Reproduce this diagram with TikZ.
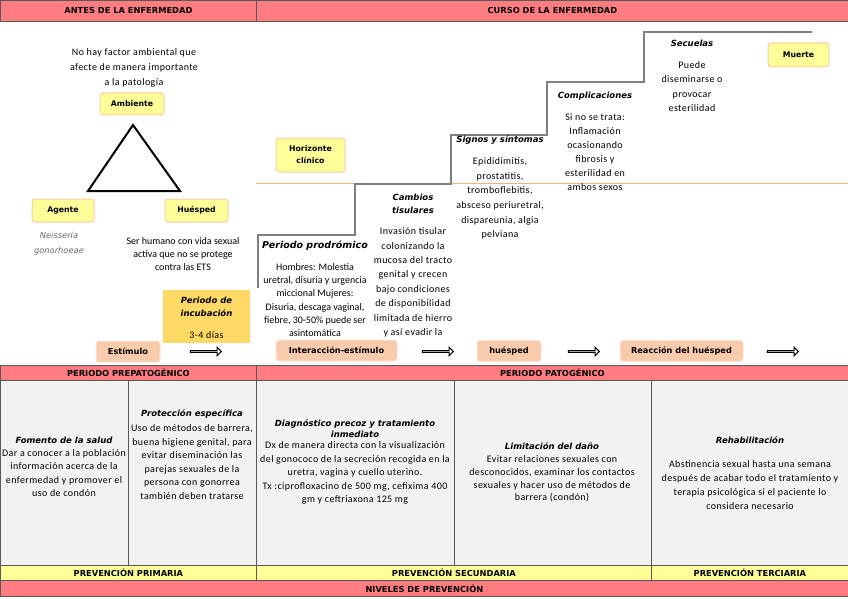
\documentclass[tikz,border=0pt]{standalone}
\usepackage{fontspec}
\setmainfont{Carlito}
\newfontfamily\capfont{DejaVu Sans}
\newfontfamily\widefont[LetterSpace=4]{Carlito}
\usetikzlibrary{shapes.arrows}

\definecolor{barpink}{HTML}{FF7C80}
\definecolor{baryellow}{HTML}{FFFF99}
\definecolor{barline}{HTML}{595959}
\definecolor{cellgray}{HTML}{F2F2F2}
\definecolor{tagyellow}{HTML}{FFFF99}
\definecolor{tagline}{HTML}{F8CBAD}
\definecolor{peach}{HTML}{F8CBAD}
\definecolor{peachline}{HTML}{FBE3D2}
\definecolor{gold}{HTML}{FFD966}
\definecolor{stairgray}{HTML}{7F7F7F}
\definecolor{horizon}{HTML}{F4B183}

\begin{document}
\begin{tikzpicture}[x=1pt, y=-1pt,
  bar/.style={draw=barline, line width=0.8pt, fill=#1, inner sep=0pt, anchor=north west, font=\capfont\bfseries\fontsize{8.3}{9}\selectfont},
  tag/.style={draw=tagline, line width=1pt, fill=tagyellow, rounded corners=3pt, inner sep=0pt, font=\capfont\bfseries\fontsize{7.8}{12}\selectfont},
  stage/.style={draw=peachline, line width=1pt, fill=peach, rounded corners=3pt, inner sep=0pt, minimum height=21pt, font=\capfont\bfseries\fontsize{8.2}{9}\selectfont},
  head/.style={align=center, inner sep=0pt, font=\capfont\bfseries\itshape\fontsize{#1}{13}\selectfont},
  head/.default=8.5,
  txt/.style={align=center, inner sep=0pt, font=\widefont\fontsize{10}{#1}\selectfont},
  txt/.default=13.5,
  tight/.style={align=center, inner sep=0pt, font=\fontsize{10}{#1}\selectfont},
  flow/.style={single arrow, draw=black, fill=white, line width=1pt, minimum height=31pt, minimum width=8.5pt, single arrow head extend=2pt, inner sep=0pt},
  stair/.style={draw=stairgray, line width=1.4pt}
]
\useasboundingbox (0,0) rectangle (848,599);

% top bars
\node[bar=barpink, minimum width=256pt, minimum height=21pt] (antes) at (0,0) {ANTES DE LA ENFERMEDAD};
\node[bar=barpink, minimum width=592pt, minimum height=21pt] (curso) at (256,0) {CURSO DE LA ENFERMEDAD};

% triada
\node[txt=15] (ambtxt) at (134,68) {No hay factor ambiental que\\afecte de manera importante\\a la patología};
\node[tag, minimum width=64pt, minimum height=22pt] (ambiente) at (132,104) {Ambiente};
\draw[line width=2pt] (133,125) -- (180,191) -- (88,191) -- cycle;
\node[tag, minimum width=62pt, minimum height=23pt] (agente) at (63,210.5) {Agente};
\node[tag, minimum width=63pt, minimum height=23pt] (huesped) at (196.5,210.5) {Huésped};
\node[align=center, inner sep=0pt, text=black!60, font=\capfont\itshape\fontsize{8.3}{15}\selectfont] (neisseria) at (59,244) {Neisseria\\gonorhoeae};
\node[tight=13] (hospedero) at (183,254) {Ser humano con vida sexual\\activa que no se protege\\contra las ETS};

% incubacion
\node[fill=gold, minimum width=87pt, minimum height=53pt, inner sep=0pt, anchor=north west] (incub) at (163,290) {};
\node[head] (incubtit) at (206.5,306.5) {Periodo de\\incubación};
\node[txt] (incubdias) at (206.5,335) {3-4 días};

% horizonte clinico y escalera
\draw[horizon, line width=0.8pt] (256,183) -- (848,183);
\draw[stair] (258,288) -- (258,235) -- (355,235) -- (355,184) -- (451,184) -- (451,135)
  -- (547,135) -- (547,82) -- (644,82) -- (644,32) -- (812,32);
\node[tag, minimum width=69pt, minimum height=34pt, align=center] (horizonte) at (310.5,155) {Horizonte\\clínico};

\node[head=9.5, anchor=west] (prodromo) at (262,246) {Periodo prodrómico};
\node[tight=13.2] (prodtxt) at (315,300) {Hombres: Molestia\\uretral, disuria y urgencia\\miccional Mujeres:\\Disuria, descaga vaginal,\\fiebre, 30-50\% puede ser\\asintomática};
\node[head] (cambios) at (413,203.5) {Cambios\\tisulares};
\node[txt=14.4] (cambiostxt) at (413,282.5) {Invasión tisular\\colonizando la\\mucosa del tracto\\genital y crecen\\bajo condiciones\\de disponibilidad\\limitada de hierro\\y así evadir la};
\node[head] (signos) at (500,140) {Signos y síntomas};
\node[txt=14.6] (signostxt) at (500,198.5) {Epididimitis,\\prostatitis,\\tromboflebitis,\\absceso periuretral,\\dispareunia, algia\\pelviana};
\node[head] (complic) at (595,96) {Complicaciones};
\node[txt=14] (complictxt) at (595,152) {Si no se trata:\\Inflamación\\ocasionando\\fibrosis y\\esterilidad en\\ambos sexos};
\node[head] (secuelas) at (692,43) {Secuelas};
\node[txt=14.3] (secuelastxt) at (692,86.5) {Puede\\diseminarse o\\provocar\\esterilidad};
\node[tag, minimum width=61pt, minimum height=24pt] (muerte) at (798.5,55) {Muerte};

% etapas
\node[stage, minimum width=64pt] (estimulo) at (128,351.5) {Estímulo};
\node[flow] (f1) at (205.5,351.5) {};
\node[stage, minimum width=121pt] (interaccion) at (336.5,350.5) {Interacción-estímulo};
\node[flow] (f2) at (437.5,351.5) {};
\node[stage, minimum width=64pt] (huesped2) at (509,351) {huésped};
\node[flow] (f3) at (583.5,351.5) {};
\node[stage, minimum width=123pt] (reaccion) at (681.5,351) {Reacción del huésped};
\node[flow] (f4) at (782.5,351.5) {};

% niveles de prevencion
\node[bar=barpink, minimum width=256pt, minimum height=15pt] (prepat) at (0,365) {PERIODO PREPATOGÉNICO};
\node[bar=barpink, minimum width=592pt, minimum height=15pt] (pat) at (256,365) {PERIODO PATOGÉNICO};
\node[bar=cellgray, minimum width=128pt, minimum height=185pt] (celda1) at (0,380) {};
\node[bar=cellgray, minimum width=128pt, minimum height=185pt] (celda2) at (128,380) {};
\node[bar=cellgray, minimum width=198pt, minimum height=185pt] (celda3) at (256,380) {};
\node[bar=cellgray, minimum width=197pt, minimum height=185pt] (celda4) at (454,380) {};
\node[bar=cellgray, minimum width=197pt, minimum height=185pt] (celda5) at (651,380) {};
\node[bar=baryellow, minimum width=256pt, minimum height=15pt] (primaria) at (0,565) {PREVENCIÓN PRIMARIA};
\node[bar=baryellow, minimum width=395pt, minimum height=15pt] (secundaria) at (256,565) {PREVENCIÓN SECUNDARIA};
\node[bar=baryellow, minimum width=197pt, minimum height=15pt] (terciaria) at (651,565) {PREVENCIÓN TERCIARIA};
\node[bar=barpink, minimum width=848pt, minimum height=16pt] (niveles) at (0,580) {NIVELES DE PREVENCIÓN};

\node[head] (fomento) at (64,440) {Fomento de la salud};
\node[txt] (fomentotxt) at (64,473) {Dar a conocer a la población\\información acerca de la\\enfermedad y promover el\\uso de condón};
\node[head] (proteccion) at (192,414) {Protección específica};
\node[txt=13.6] (protecciontxt) at (192,462) {Uso de métodos de barrera,\\buena higiene genital, para\\evitar diseminación las\\parejas sexuales de la\\persona con gonorrea\\también deben tratarse};
\node[head, font=\capfont\bfseries\itshape\fontsize{8.5}{11}\selectfont] (diagnostico) at (355,428.5) {Diagnóstico precoz y tratamiento\\inmediato};
\node[txt] (diagnosticotxt) at (355,473) {Dx de manera directa con la visualización\\del gonococo de la secreción recogida en la\\uretra, vagina y cuello uterino.\\Tx :ciprofloxacino de 500 mg, cefixima 400\\gm y ceftriaxona 125 mg};
\node[head] (limitacion) at (552,446) {Limitación del daño};
\node[txt=12.7] (limitaciontxt) at (552,479) {Evitar relaciones sexuales con\\desconocidos, examinar los contactos\\sexuales y hacer uso de métodos de\\barrera (condón)};
\node[head] (rehab) at (750,440) {Rehabilitación};
\node[txt=14] (rehabtxt) at (750,485) {Abstinencia sexual hasta una semana\\después de acabar todo el tratamiento y\\terapia psicológica si el paciente lo\\considera necesario};
\end{tikzpicture}
\end{document}
